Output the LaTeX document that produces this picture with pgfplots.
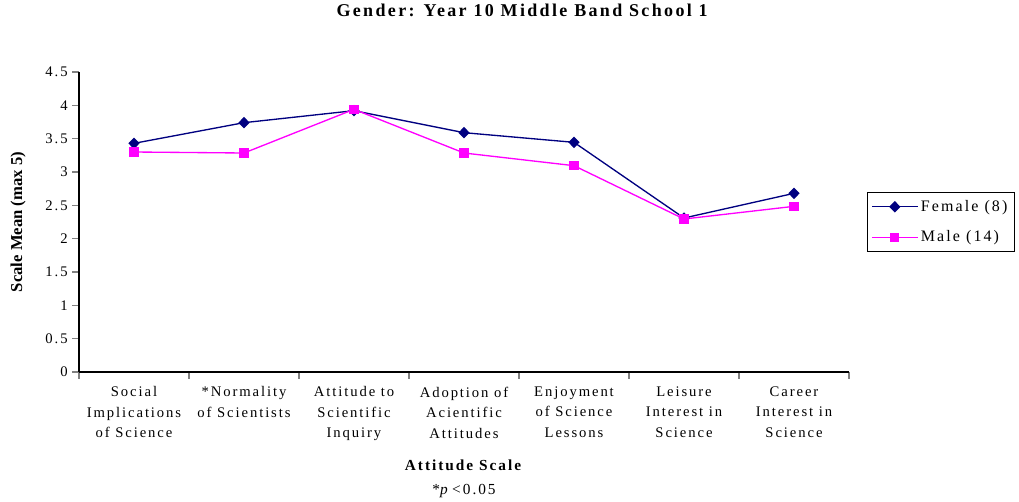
\documentclass[border=0pt]{standalone}
\usepackage{pgfplots}
\pgfplotsset{compat=1.18}
\usepackage{fontspec}
\setmainfont{Liberation Serif}[LetterSpace=13]
\newfontfamily\ylfont{Liberation Serif}
\definecolor{fem}{RGB}{0,0,128}
\definecolor{mal}{RGB}{255,0,255}

\begin{document}
\begin{tikzpicture}
\begin{axis}[
  scale only axis,
  width=577.5pt, height=225pt,
  xmin=-0.5, xmax=6.5,
  ymin=0, ymax=4.5,
  axis x line*=bottom, axis y line*=left,
  axis line style={-, line width=0.9pt},
  ytick={0,0.5,...,4.5},
  xtick={0,...,6},
  major x tick style={draw=none},
  minor xtick={-0.5,0.5,...,6.5},
  minor x tick style={line width=0.9pt},
  minor tick length=5pt,
  major tick length=5pt,
  y tick style={line width=0.9pt},
  tick align=outside,
  xticklabels={Social\\Implications\\of Science, *Normality\\of Scientists, Attitude to\\Scientific\\Inquiry, Adoption of\\Acientific\\Attitudes, Enjoyment\\of Science\\Lessons, Leisure\\Interest in\\Science, Career\\Interest in\\Science},
  x tick label style={align=center, font=\fontsize{11}{15.4}\selectfont, yshift=-2.5pt},
  y tick label style={font=\fontsize{11}{13}\selectfont},
  /pgf/number format/assume math mode=true,
  xlabel={\textbf{Attitude Scale}\\*\textit{p}\,<0.05},
  xlabel style={align=center, font=\fontsize{11.5}{18}\selectfont,
    at={(axis description cs:0.5,-0.357)}, anchor=center},
  ylabel={\textbf{Scale Mean (max 5)}},
  ylabel style={font=\ylfont\fontsize{12.5}{13}\selectfont,
    at={(axis description cs:-0.0792,0.5)}, anchor=center},
  title={\textbf{Gender: Year 10 Middle Band School 1}},
  title style={font=\fontsize{13.5}{15}\selectfont,
    at={(axis description cs:0.577,1.18)}, anchor=center},
  legend style={at={(1,0.5)}, anchor=west, xshift=13.5pt, draw=black, line width=0.6pt,
    font=\fontsize{12}{14}\selectfont, row sep=9pt, inner xsep=3pt, inner ysep=4pt},
  legend cell align=left,
  legend image code/.code={\draw[mark repeat=2,mark phase=2] plot coordinates {(0cm,0cm) (0.6cm,0cm) (1.2cm,0cm)};},
  clip=false,
]
\addplot[color=fem, line width=1pt, mark=diamond*, mark size=3.6pt,
  mark options={solid, fill=fem, xscale=1.3}]
coordinates {(0,3.43) (1,3.74) (2,3.92) (3,3.59) (4,3.445) (5,2.31) (6,2.68)};
\addlegendentry{Female (8)}
\addplot[color=mal, line width=1pt, mark=square*, mark size=2.9pt,
  mark options={solid, fill=mal}]
coordinates {(0,3.30) (1,3.285) (2,3.94) (3,3.285) (4,3.095) (5,2.295) (6,2.485)};
\addlegendentry{Male (14)}
\coordinate (o) at (rel axis cs:0,0);
\end{axis}
\pgfresetboundingbox
\path[use as bounding box] ([xshift=-59.25pt, yshift=-96.75pt]o) rectangle ([xshift=705pt, yshift=279pt]o);
\end{tikzpicture}
\end{document}
